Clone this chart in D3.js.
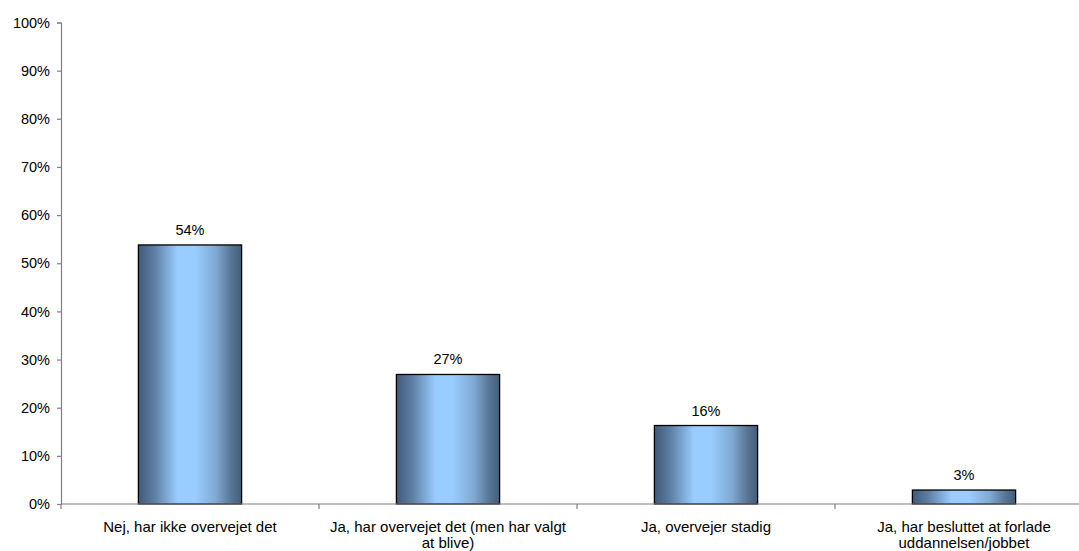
<!DOCTYPE html>
<html><head><meta charset="utf-8">
<script src="https://cdn.jsdelivr.net/npm/d3@7"></script>
<style>html,body{margin:0;padding:0;background:#fff;}svg{display:block;}</style>
</head><body>
<svg id="c" width="1079" height="551"></svg>
<script>
const categories = ["Nej, har ikke overvejet det", "Ja, har overvejet det (men har valgt at blive)", "Ja, overvejer stadig", "Ja, har besluttet at forlade uddannelsen/jobbet"];
const categoryLines = [["Nej, har ikke overvejet det"], ["Ja, har overvejet det (men har valgt", "at blive)"], ["Ja, overvejer stadig"], ["Ja, har besluttet at forlade", "uddannelsen/jobbet"]];
const values = [53.8, 26.9, 16.3, 2.9];
const valueLabels = ["54%", "27%", "16%", "3%"];
const yTicks = [0, 10, 20, 30, 40, 50, 60, 70, 80, 90, 100];

const svg = d3.select("#c");
const font = "Liberation Sans, Arial, sans-serif";
const x0 = 61, x1 = 1093, yBottom = 504, yTop = 22.5;

const x = d3.scaleBand().domain(categories).range([x0, x1]).padding(0);
const y = d3.scaleLinear().domain([0, 100]).range([yBottom, yTop]);

const defs = svg.append("defs");
const g = defs.append("linearGradient").attr("id", "bg").attr("x1", "0").attr("x2", "1").attr("y1", "0").attr("y2", "0");
[[0, "#3f5a7a"], [0.15, "#5d7da2"], [0.38, "#99ccff"], [0.55, "#99ccff"], [0.75, "#80a9d3"], [0.9, "#587595"], [1, "#435d7c"]]
  .forEach(([o, c]) => g.append("stop").attr("offset", o).attr("stop-color", c));

// Y axis
const yAxis = d3.axisLeft(y).tickValues(yTicks).tickFormat(d => d + "%").tickSize(4).tickPadding(7);
const ya = svg.append("g").attr("transform", `translate(${x0},0)`).call(yAxis);
ya.select(".domain").attr("stroke", "#808080").attr("stroke-width", 1.2);
ya.selectAll(".tick line").attr("stroke", "#808080").attr("stroke-width", 1.2);
ya.selectAll(".tick text").attr("font-family", font).attr("font-size", 14.5).attr("fill", "#000");

// bars
const bw = x.bandwidth() * 0.4;
svg.append("g").selectAll("rect").data(values).join("rect")
  .attr("x", (d, i) => x(categories[i]) + x.bandwidth() / 2 - bw / 2)
  .attr("y", d => y(d))
  .attr("width", bw)
  .attr("height", d => y(0) - y(d))
  .attr("fill", "url(#bg)")
  .attr("stroke", "#000").attr("stroke-width", 1.3);

// X axis
const xa = svg.append("g").attr("transform", `translate(0,${yBottom})`);
xa.append("line").attr("x1", x0).attr("x2", x1).attr("y1", 0).attr("y2", 0).attr("stroke", "#808080").attr("stroke-width", 1.2);
categories.forEach((c, i) => {
  const bx = x(c);
  xa.append("line").attr("x1", bx).attr("x2", bx).attr("y1", 0).attr("y2", 5).attr("stroke", "#808080").attr("stroke-width", 1.2);
});
categories.forEach((c, i) => {
  const t = xa.append("text").attr("text-anchor", "middle").attr("font-family", font).attr("font-size", 15).attr("fill", "#000")
    .attr("x", x(c) + x.bandwidth() / 2).attr("y", 27.5);
  categoryLines[i].forEach((ln, k) => t.append("tspan").attr("x", x(c) + x.bandwidth() / 2).attr("dy", k === 0 ? 0 : 16).text(ln));
});

// value labels
svg.append("g").selectAll("text").data(values).join("text")
  .attr("x", (d, i) => x(categories[i]) + x.bandwidth() / 2)
  .attr("y", d => y(d) - 10)
  .attr("text-anchor", "middle").attr("font-family", font).attr("font-size", 14.5).attr("fill", "#000")
  .text((d, i) => valueLabels[i]);
</script>
</body></html>
